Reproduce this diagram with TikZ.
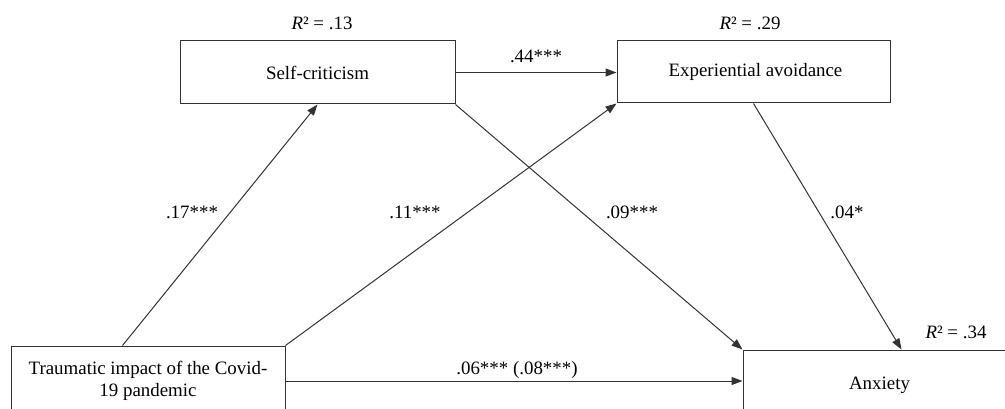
\documentclass[tikz,border=0pt]{standalone}
\usepackage{fontspec}
\setmainfont{Liberation Serif}
\usetikzlibrary{arrows.meta}
\begin{document}
\begin{tikzpicture}[x=1pt,y=-1pt,
  every node/.style={font=\fontsize{18.9}{22}\selectfont, inner sep=0pt},
  varbox/.style={draw=black!80, line width=1pt, rectangle, align=center},
  path/.style={draw=black!80, line width=1pt, -{Triangle[length=11pt,width=8pt]}},
  lbl/.style={anchor=center}]
\useasboundingbox (0,0) rectangle (1005,409);
\clip (0,0) rectangle (1005,409);
\fill[white] (0,0) rectangle (1005,409);

% variables
\node[varbox, minimum width=275pt, minimum height=63pt] (SC) at (317.5,72.5) {Self-criticism};
\node[varbox, minimum width=273pt, minimum height=62pt] (EA) at (753.5,72) {\hspace*{4pt}Experiential avoidance};
\node[varbox, minimum width=274pt, minimum height=70pt] (T) at (148,381) {Traumatic impact of the Covid-\\19 pandemic};
\node[varbox, minimum width=273pt, minimum height=70pt] (A) at (879.5,385) {Anxiety};

% explained variance
\node[lbl] (r1) at (322,23) {\textit{R}² = .13};
\node[lbl] (r2) at (750,23) {\textit{R}² = .29};
\node[lbl] (r3) at (956,332) {\textit{R}² = .34};

% paths
\draw[path] ([xshift=112pt]T.north west) -- (SC.south);
\draw[path] (SC.east) -- (SC.east -| EA.west);
\draw[path] (T.north east) -- (EA.south west);
\draw[path] (SC.south east) -- (A.north west);
\draw[path] (EA.south) -- ([xshift=159pt]A.north west);
\draw[path] (T.east) -- (T.east -| A.west);

% coefficients
\node[lbl] (c1) at (536,56) {.44***};
\node[lbl] (c2) at (192,212) {.17***};
\node[lbl] (c3) at (415,212) {.11***};
\node[lbl] (c4) at (632,212) {.09***};
\node[lbl] (c5) at (847,212) {.04*};
\node[lbl] (c6) at (517,370) {.06*** (.08***)};
\end{tikzpicture}
\end{document}
